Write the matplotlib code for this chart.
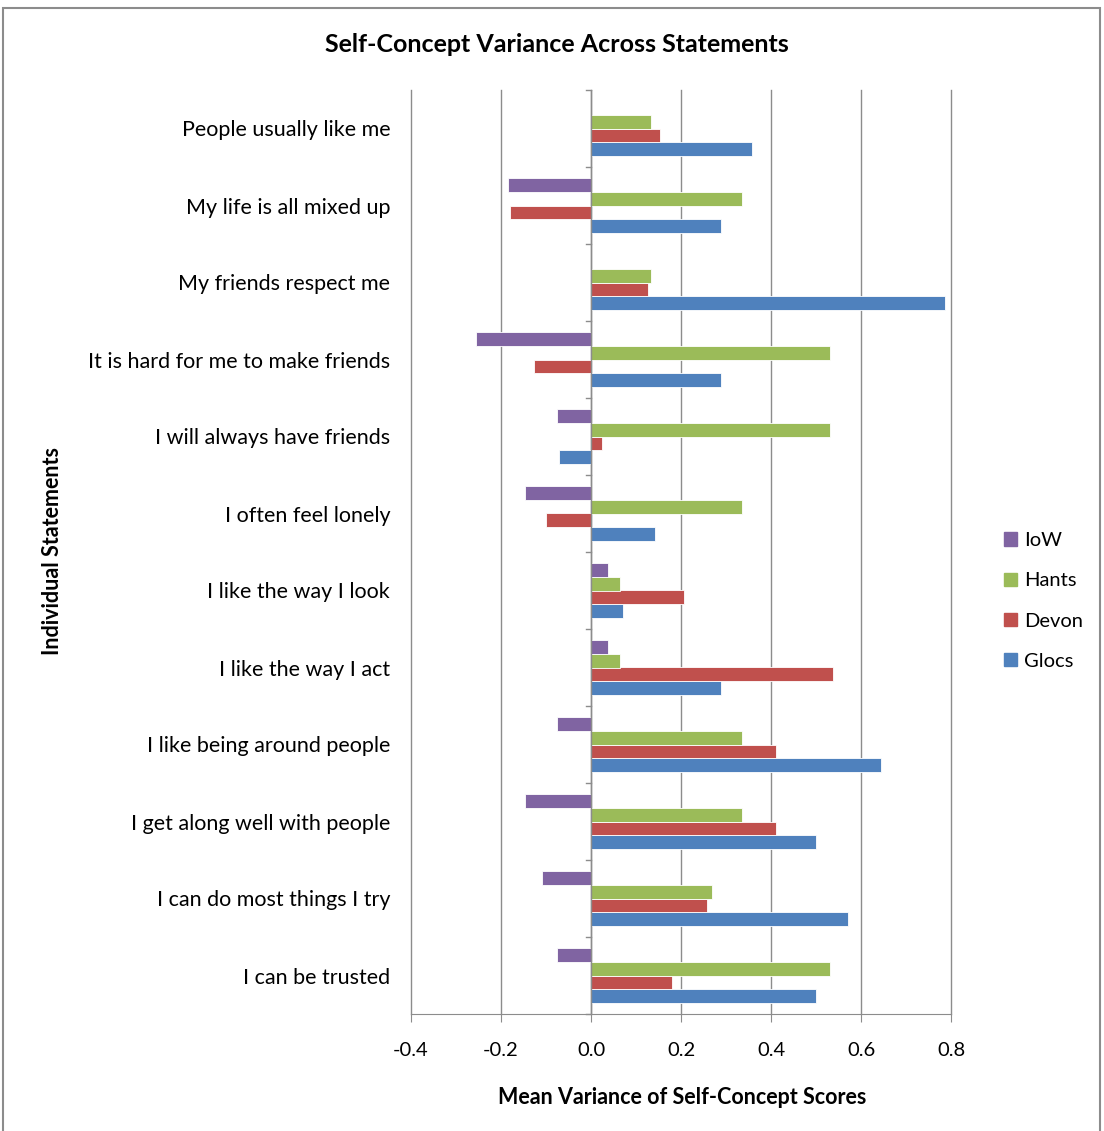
import numpy as np
import matplotlib
matplotlib.use("Agg")
import matplotlib.pyplot as plt
from matplotlib.patches import Rectangle, Patch

plt.rcParams['font.family'] = ['Lato', 'DejaVu Sans']

# categories listed bottom to top
statements = [
    "I can be trusted",
    "I can do most things I try",
    "I get along well with people",
    "I like being around people",
    "I like the way I act",
    "I like the way I look",
    "I often feel lonely",
    "I will always have friends",
    "It is hard for me to make friends",
    "My friends respect me",
    "My life is all mixed up",
    "People usually like me",
]
glocs = [0.50, 0.57, 0.50, 0.645, 0.288, 0.070, 0.143, -0.072, 0.288, 0.787, 0.288, 0.358]
devon = [0.18, 0.257, 0.41, 0.41, 0.537, 0.207, -0.101, 0.025, -0.126, 0.127, -0.179, 0.153]
hants = [0.532, 0.268, 0.335, 0.335, 0.065, 0.065, 0.335, 0.532, 0.532, 0.133, 0.335, 0.133]
iow = [-0.075, -0.109, -0.146, -0.075, 0.037, 0.037, -0.146, -0.075, -0.256, 0.0, -0.184, 0.0]

series = [("Glocs", glocs, "#4F81BD"), ("Devon", devon, "#C0504D"),
          ("Hants", hants, "#9BBB59"), ("IoW", iow, "#8064A2")]

fig = plt.figure(figsize=(11.04, 11.31), dpi=100)
ax = fig.add_axes([411/1104, 1 - 1014/1131, 540/1104, 924/1131])

y = np.arange(len(statements))
h = 0.18
offsets = [-1.5*h, -0.5*h, 0.5*h, 1.5*h]
for (name, vals, col), off in zip(series, offsets):
    ax.barh(y + off, vals, height=h, color=col, edgecolor="white", linewidth=0.6, zorder=3)

ax.set_xlim(-0.4, 0.8)
ax.set_ylim(-0.5, len(statements) - 0.5)
ax.set_xticks(np.arange(-0.4, 0.81, 0.2))
ax.set_xticklabels(["-0.4", "-0.2", "0.0", "0.2", "0.4", "0.6", "0.8"], fontsize=14.5)
ax.xaxis.grid(True, color="#8c8c8c", linewidth=1.0, zorder=0)
for gl in ax.get_xgridlines():
    gl.set_clip_on(False)
ax.tick_params(axis="x", direction="out", length=6, color="#8c8c8c", pad=14)

for s in ["top", "right", "left"]:
    ax.spines[s].set_visible(False)
ax.spines["bottom"].set_color("#8c8c8c")

# labels sit at the left of the plot, axis line drawn at zero
ax.set_yticks(y)
ax.set_yticklabels(statements, fontsize=15.5)
ax.tick_params(axis="y", length=0, pad=15)
ax.axvline(0, color="#8c8c8c", linewidth=1.0, zorder=4)
for b in np.arange(-0.5, len(statements), 1.0):
    ax.plot([-0.012, 0], [b, b], color="#8c8c8c", linewidth=1.0, zorder=4, clip_on=False)

fig.text(557/1104, 1 - 45/1131, "Self-Concept Variance Across Statements",
         ha="center", va="center", fontsize=18, fontweight="bold")
fig.text(682/1104, 1 - 1097/1131, "Mean Variance of Self-Concept Scores",
         ha="center", va="center", fontsize=15.5, fontweight="bold")
fig.text(53/1104, 1 - 551/1131, "Individual Statements", rotation=90,
         ha="center", va="center", fontsize=15.5, fontweight="bold")

handles = [Patch(color=c) for n, v, c in series[::-1]]
labels = [n for n, v, c in series[::-1]]
fig.legend(handles, labels, loc="center left", bbox_to_anchor=(986/1104, 1 - 601/1131),
           frameon=False, fontsize=14.5, handlelength=0.65, handleheight=0.65,
           handletextpad=0.35, labelspacing=1.15)

fig.patches.append(Rectangle((3/1104, -0.01), 1097/1104, 1 - 8/1131 + 0.01,
                             transform=fig.transFigure, fill=False,
                             edgecolor="#8c8c8c", linewidth=1.5))

fig.savefig("out.png", dpi=100, facecolor="white")
